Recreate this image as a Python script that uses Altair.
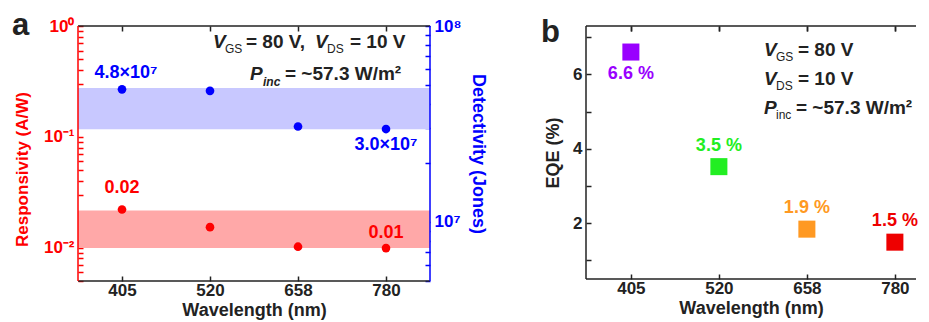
import altair as alt
import pandas as pd

# ---------------- data ----------------
wavelengths = ["405", "520", "658", "780"]
responsivity = [0.0221, 0.0153, 0.0102, 0.0099]      # A/W
detectivity = [4.75e7, 4.67e7, 3.07e7, 2.98e7]       # Jones
resp_text = ["0.02", "", "", "0.01"]
det_text = ["4.8×10⁷", "", "", "3.0×10⁷"]
resp_band = [0.0099, 0.0216]
det_band = [2.97e7, 4.83e7]
eqe = [6.6, 3.52, 1.84, 1.49]                         # %
eqe_text = ["6.6 %", "3.5 %", "1.9 %", "1.5 %"]
eqe_colors = ["#9900FF", "#22EE22", "#FF9922", "#EE0000"]
resp_ticks = [0.005, 0.006, 0.007, 0.008, 0.009, 0.01, 0.02, 0.03, 0.04, 0.05,
              0.06, 0.07, 0.08, 0.09, 0.1, 0.2, 0.3, 0.4, 0.5, 0.6, 0.7, 0.8, 0.9, 1]
det_ticks = [5e6, 6e6, 7e6, 8e6, 9e6, 1e7, 2e7, 3e7, 4e7, 5e7, 6e7, 7e7, 8e7, 9e7, 1e8]
eqe_ticks = [1, 2, 3, 4, 5, 6, 7]

# ---------------- style ----------------
W, H = 352, 255
W2, H2 = 330, 253
FONT = "Liberation Sans"
RED = "#FF0000"
BLUE = "#0000FF"
DARK = "#222222"

df_a = pd.DataFrame({"wl": wavelengths, "resp": responsivity, "det": detectivity,
                     "rt": resp_text, "dt": det_text})
df_b = pd.DataFrame({"wl": wavelengths, "eqe": eqe, "et": eqe_text})
dummy = pd.DataFrame({"d": [0]})

xs = alt.Scale(type="point", domain=wavelengths, padding=0.5)
xs2 = alt.Scale(type="point", domain=wavelengths, padding=0.375, align=0.68)


def xenc(scale, orient):
    if orient == "bottom":
        ax = alt.Axis(title="Wavelength (nm)", labelAngle=0, offset=-5, domain=False,
                      tickSize=5, labelPadding=1, titlePadding=3)
    else:
        ax = alt.Axis(orient="top", title=None, labels=False, offset=-5, domain=False,
                      tickSize=5)
    return alt.X("wl:N", scale=scale, sort=wavelengths, axis=ax)


def txt(s, x, y, size=19, style="normal", weight="bold", color=DARK, align="left"):
    return alt.Chart(dummy).mark_text(
        text=s, font=FONT, fontSize=size, fontStyle=style, fontWeight=weight,
        color=color, align=align, baseline="alphabetic"
    ).encode(x=alt.value(x), y=alt.value(y))


def vrule(x, color, h):
    return alt.Chart(dummy).mark_rule(color=color, strokeWidth=1.5).encode(
        x=alt.value(x), y=alt.value(0), y2=alt.value(h))


def hrule(y, color, w):
    return alt.Chart(dummy).mark_rule(color=color, strokeWidth=1.5).encode(
        x=alt.value(0), x2=alt.value(w), y=alt.value(y))


# ---------------- panel a ----------------
yl_scale = alt.Scale(type="log", domain=[0.005, 1], nice=False)
yl_axis = alt.Axis(
    title="Responsivity (A/W)", values=resp_ticks,
    labelExpr="datum.value == 1 ? '10⁰' : datum.value == 0.1 ? '10⁻¹' : datum.value == 0.01 ? '10⁻²' : ''",
    offset=-5, domain=False, tickSize=5, tickColor=RED, labelColor=RED, titleColor=RED,
    labelPadding=4, titlePadding=12, titleFontSize=17, titleY=143, labelOverlap=False)
yr_scale = alt.Scale(type="log", domain=[5e6, 1e8], nice=False)
yr_axis = alt.Axis(
    orient="right", title="Detectivity (Jones)", values=det_ticks,
    labelExpr="datum.value == 1e7 ? '10⁷' : datum.value == 1e8 ? '10⁸' : ''",
    offset=-5, domain=False, tickSize=5, tickColor=BLUE, labelColor=BLUE, titleColor=BLUE,
    labelPadding=4, titlePadding=8, titleFontSize=18, labelOverlap=False)

red_band = alt.Chart(pd.DataFrame({"lo": [resp_band[0]], "hi": [resp_band[1]]})).mark_rect(
    color="#FFA8A8").encode(x=alt.value(0), x2=alt.value(W),
                           y=alt.Y("lo:Q", scale=yl_scale, axis=yl_axis), y2="hi:Q")
red_pts = alt.Chart(df_a).mark_circle(size=75, color=RED, opacity=1).encode(
    x=xenc(xs, "bottom"), y=alt.Y("resp:Q", scale=yl_scale, axis=yl_axis))


def red_lbl(wl, dy):
    return alt.Chart(df_a).transform_filter(f"datum.wl == '{wl}'").mark_text(
        dy=dy, color=RED, font=FONT, fontSize=18, fontWeight="bold").encode(
        x=xenc(xs, "bottom"), y=alt.Y("resp:Q", scale=yl_scale, axis=yl_axis), text="rt:N")


red_layer = alt.layer(red_band, red_pts, red_lbl("405", -21), red_lbl("780", -15))

blue_band = alt.Chart(pd.DataFrame({"lo": [det_band[0]], "hi": [det_band[1]]})).mark_rect(
    color="#C8C8FF").encode(x=alt.value(0), x2=alt.value(W),
                           y=alt.Y("lo:Q", scale=yr_scale, axis=yr_axis), y2="hi:Q")
blue_pts = alt.Chart(df_a).mark_circle(size=75, color=BLUE, opacity=1).encode(
    x=xenc(xs, "top"), y=alt.Y("det:Q", scale=yr_scale, axis=yr_axis))


def blue_lbl(wl, dy, dx):
    return alt.Chart(df_a).transform_filter(f"datum.wl == '{wl}'").mark_text(
        dy=dy, dx=dx, color=BLUE, font=FONT, fontSize=18, fontWeight="bold").encode(
        x=xenc(xs, "top"), y=alt.Y("det:Q", scale=yr_scale, axis=yr_axis), text="dt:N")


blue_layer = alt.layer(blue_band, blue_pts, blue_lbl("405", -16, 4), blue_lbl("780", 16, 0))

deco_a = alt.layer(
    hrule(0, DARK, W), hrule(H, DARK, W),
    vrule(0, RED, H), vrule(W, BLUE, H),
    txt("a", -66, 9, size=31),
    txt("V", 135, 22, style="italic"),
    txt("GS", 147, 27, size=12, weight="normal"),
    txt("= 80 V,", 168, 22),
    txt("V", 237, 22, style="italic"),
    txt("DS", 249, 27, size=12, weight="normal"),
    txt("= 10 V", 272, 22),
    txt("P", 172, 54, style="italic"),
    txt("inc", 185, 60, size=12, style="italic"),
    txt("= ~57.3 W/m²", 207, 54),
)

panel_a = alt.layer(red_layer, blue_layer, deco_a).resolve_scale(
    y="independent").resolve_axis(x="independent").properties(width=W, height=H)

# ---------------- panel b ----------------
ys2 = alt.Scale(domain=[0.5, 7.3], nice=False, zero=False)
y2_axis = alt.Axis(title="EQE (%)", values=eqe_ticks,
                   labelExpr="datum.value % 2 == 0 ? datum.label : ''",
                   offset=-5, domain=False, tickSize=5, labelPadding=4, titlePadding=10,
                   labelOverlap=False)
col = alt.Color("wl:N", scale=alt.Scale(domain=wavelengths, range=eqe_colors), legend=None)

squares = alt.Chart(df_b).mark_square(size=290, opacity=1).encode(
    x=xenc(xs2, "bottom"), y=alt.Y("eqe:Q", scale=ys2, axis=y2_axis), color=col)
lbl_below = alt.Chart(df_b).transform_filter("datum.wl == '405'").mark_text(
    dy=22, font=FONT, fontSize=18, fontWeight="bold").encode(
    x=xenc(xs2, "top"), y=alt.Y("eqe:Q", scale=ys2, axis=y2_axis), text="et:N", color=col)
lbl_above = alt.Chart(df_b).transform_filter("datum.wl != '405'").mark_text(
    dy=-21, font=FONT, fontSize=18, fontWeight="bold").encode(
    x=xenc(xs2, "top"), y=alt.Y("eqe:Q", scale=ys2, axis=y2_axis), text="et:N", color=col)

deco_b = alt.layer(
    hrule(0, DARK, W2), hrule(H2, DARK, W2), vrule(0, DARK, H2),
    txt("b", -45, 16, size=31),
    txt("V", 178, 30, style="italic"),
    txt("GS", 190, 35, size=12, weight="normal"),
    txt("= 80 V", 212, 30),
    txt("V", 178, 59, style="italic"),
    txt("DS", 190, 64, size=12, weight="normal"),
    txt("= 10 V", 212, 59),
    txt("P", 178, 88, style="italic"),
    txt("inc", 190, 93, size=12, weight="normal"),
    txt("= ~57.3 W/m²", 210, 88),
)

panel_b = alt.layer(squares, lbl_below, lbl_above, deco_b).resolve_axis(
    x="independent").properties(width=W2, height=H2)

chart = alt.hconcat(panel_a, panel_b, spacing=52).properties(
    padding={"left": 3, "top": 1, "right": 0, "bottom": 0}
).configure_view(stroke="transparent").configure_axis(
    labelFont=FONT, titleFont=FONT, labelFontSize=17, titleFontSize=18,
    labelFontWeight="bold", titleFontWeight="bold", labelColor=DARK, titleColor=DARK,
    tickColor=DARK, tickWidth=1.5, grid=False)

chart.save("out.html", embed_options={"renderer": "svg", "actions": False})
